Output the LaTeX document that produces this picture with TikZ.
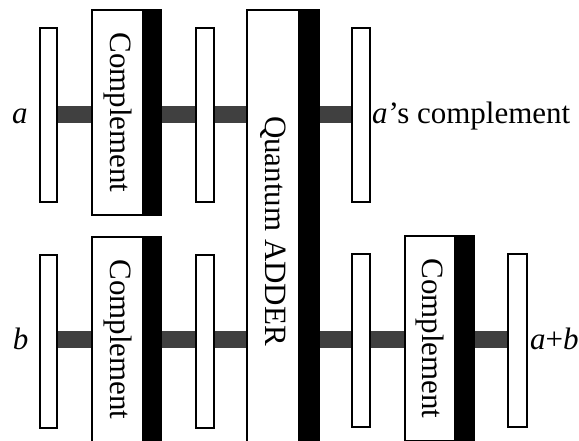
\documentclass[tikz,border=0pt]{standalone}
\usepackage{fontspec}
\setmainfont{Liberation Serif}
\usepackage{graphicx}
\begin{document}
\begin{tikzpicture}[x=1pt,y=-1pt,
  every node/.style={font=\fontsize{31}{36}\selectfont},
  reg/.style={draw=black, fill=white, line width=1.3pt, inner sep=0pt,
              minimum width=17pt, minimum height=174pt},
  gate/.style={draw=black, fill=white, line width=1.3pt, inner sep=0pt,
               minimum width=51pt, minimum height=205pt},
  gatebar/.style={draw=black, fill=black, line width=1.3pt, inner sep=0pt,
                  minimum width=17pt, minimum height=205pt, anchor=west},
  wire/.style={fill=black!75},
  lbl/.style={inner sep=0pt, anchor=base}
]
\useasboundingbox (0,0) rectangle (579,441);
\clip (0,0) rectangle (579,441);
\fill[white] (0,0) rectangle (579,441);

% upper line: register a
\node[reg] (ra1) at (48.5,115) {};
\node[gate] (c1) at (117.5,112.5) {\rotatebox{-90}{Complement}};
\node[gatebar] (c1b) at (c1.east) {};
\node[reg, minimum width=18pt] (ra2) at (205,115) {};

% quantum adder spanning both lines
\node[gate, minimum width=52pt, minimum height=442pt] (add) at (273,231)
  {\rotatebox{-90}{Quantum ADDER}};
\node[gatebar, minimum width=19pt, minimum height=442pt] (addb) at (add.east) {};

\node[reg, minimum width=18pt] (ra3) at (361,115) {};

% lower line: register b
\node[reg, minimum height=173pt] (rb1) at (48.5,341.5) {};
\node[gate] (c2) at (117.5,339.5) {\rotatebox{-90}{Complement}};
\node[gatebar] (c2b) at (c2.east) {};
\node[reg, minimum width=18pt, minimum height=173pt] (rb2) at (205,341.5) {};
\node[reg, minimum width=18pt, minimum height=173pt] (rb3) at (361,340.5) {};
\node[gate, minimum width=50pt] (c3) at (430,338.5) {\rotatebox{-90}{Complement}};
\node[gatebar, minimum width=18pt] (c3b) at (c3.east) {};
\node[reg, minimum width=19pt, minimum height=173pt] (rb4) at (517.5,340.5) {};

% connections, upper line (bars 17pt thick, centred at y = 114.5)
\fill[wire] ([yshift=9pt]ra1.east) rectangle ([yshift=-8pt]ra1.east -| c1.west);
\fill[wire] ([yshift=9pt]c1b.east |- ra2.west) rectangle ([yshift=-8pt]ra2.west);
\fill[wire] ([yshift=9pt]ra2.east) rectangle ([yshift=-8pt]ra2.east -| add.west);
\fill[wire] ([yshift=9pt]addb.east |- ra3.west) rectangle ([yshift=-8pt]ra3.west);

% connections, lower line (centred at y = 339.5)
\fill[wire] ([yshift=10.5pt]rb1.east) rectangle ([yshift=-6.5pt]rb1.east -| c2.west);
\fill[wire] ([yshift=10.5pt]c2b.east |- rb2.west) rectangle ([yshift=-6.5pt]rb2.west);
\fill[wire] ([yshift=10.5pt]rb2.east) rectangle ([yshift=-6.5pt]rb2.east -| add.west);
\fill[wire] ([yshift=9.5pt]addb.east |- rb3.west) rectangle ([yshift=-7.5pt]rb3.west);
\fill[wire] ([yshift=9.5pt]rb3.east) rectangle ([yshift=-7.5pt]rb3.east -| c3.west);
\fill[wire] ([yshift=9.5pt]c3b.east |- rb4.west) rectangle ([yshift=-7.5pt]rb4.west);

% labels
\node[lbl] (la) at (20,124) {\textit{a}};
\node[lbl] (lb) at (20.5,349) {\textit{b}};
\node[lbl, anchor=base west] (lac) at (372,124) {\textit{a}\kern1pt’s complement};
\node[lbl, anchor=base west] (lab) at (530,349) {\textit{a}+\textit{b}};
\end{tikzpicture}
\end{document}
